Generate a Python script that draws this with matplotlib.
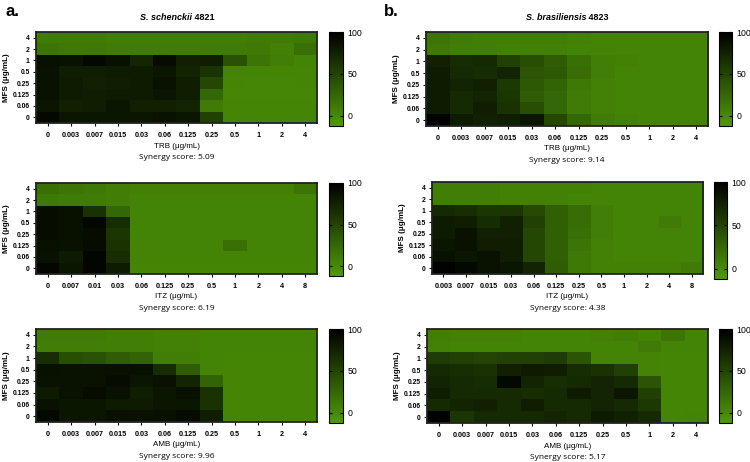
import numpy as np
import matplotlib
matplotlib.use("Agg")
import matplotlib.pyplot as plt
from matplotlib.colors import LinearSegmentedColormap

plt.rcParams['font.family'] = ['Liberation Sans', 'DejaVu Sans']

# ---------------- data ----------------
mfs_labels = ["4", "2", "1", "0.5", "0.25", "0.125", "0.06", "0"]

trb_labels = ["0", "0.003", "0.007", "0.015", "0.03", "0.06", "0.125", "0.25", "0.5", "1", "2", "4"]
itz_labels_a = ["0", "0.007", "0.01", "0.03", "0.06", "0.125", "0.25", "0.5", "1", "2", "4", "8"]
itz_labels_b = ["0.003", "0.007", "0.015", "0.03", "0.06", "0.125", "0.25", "0.5", "1", "2", "4", "8"]
amb_labels = ["0", "0.003", "0.007", "0.015", "0.03", "0.06", "0.125", "0.25", "0.5", "1", "2", "4"]

# rows: MFS 4, 2, 1, 0.5, 0.25, 0.125, 0.06, 0
trb_schenckii = [
    [10, 10, 10, 8, 8, 8, 8, 8, 8, 10, 10, 12],
    [15, 12, 12, 10, 10, 10, 10, 10, 10, 12, 6, 18],
    [88, 86, 93, 88, 72, 90, 76, 78, 40, 15, 8, 5],
    [86, 78, 78, 80, 80, 83, 73, 62, 5, 3, 3, 3],
    [86, 80, 76, 78, 80, 86, 78, 48, 3, 2, 2, 3],
    [86, 80, 78, 80, 80, 83, 78, 25, 2, 2, 2, 2],
    [83, 76, 78, 83, 76, 76, 73, 10, 3, 3, 3, 3],
    [93, 83, 83, 83, 83, 86, 83, 52, 3, 3, 3, 3],
]
trb_brasiliensis = [
    [15, 10, 8, 8, 8, 8, 6, 5, 5, 5, 5, 5],
    [12, 8, 8, 6, 6, 6, 5, 5, 5, 5, 5, 5],
    [76, 68, 70, 53, 43, 33, 18, 8, 6, 5, 5, 5],
    [80, 70, 68, 73, 38, 36, 20, 8, 5, 5, 5, 5],
    [80, 73, 76, 58, 36, 28, 12, 6, 5, 5, 5, 5],
    [80, 70, 73, 60, 33, 25, 10, 6, 5, 5, 5, 5],
    [80, 70, 78, 63, 43, 25, 10, 6, 5, 5, 5, 5],
    [97, 80, 76, 78, 83, 48, 25, 10, 6, 5, 5, 5],
]
itz_schenckii = [
    [18, 15, 12, 8, 6, 6, 6, 6, 6, 6, 6, 15],
    [12, 10, 10, 8, 5, 5, 5, 5, 5, 5, 5, 5],
    [90, 88, 63, 25, 5, 5, 5, 5, 5, 5, 5, 5],
    [90, 88, 94, 68, 5, 5, 5, 5, 5, 5, 5, 5],
    [90, 88, 90, 60, 5, 5, 5, 5, 5, 5, 5, 5],
    [88, 86, 90, 63, 5, 5, 5, 5, 18, 5, 5, 5],
    [86, 80, 95, 66, 5, 5, 5, 5, 5, 5, 5, 5],
    [94, 83, 95, 80, 3, 3, 3, 3, 3, 3, 3, 3],
]
itz_brasiliensis = [
    [8, 8, 8, 6, 6, 6, 6, 5, 5, 5, 5, 5],
    [8, 8, 8, 6, 6, 6, 5, 5, 5, 5, 5, 5],
    [70, 66, 60, 60, 46, 30, 20, 8, 5, 5, 5, 5],
    [80, 78, 68, 76, 53, 30, 20, 8, 5, 5, 10, 5],
    [80, 86, 76, 76, 48, 30, 18, 8, 5, 5, 5, 5],
    [83, 86, 78, 78, 48, 30, 15, 6, 5, 5, 5, 5],
    [88, 83, 86, 78, 48, 30, 12, 6, 5, 5, 5, 5],
    [97, 93, 86, 83, 73, 33, 12, 6, 6, 6, 6, 10],
]
amb_schenckii = [
    [10, 10, 10, 8, 8, 6, 6, 5, 5, 5, 5, 5],
    [8, 8, 8, 8, 8, 6, 6, 5, 5, 5, 5, 5],
    [66, 43, 40, 33, 28, 8, 8, 5, 3, 3, 3, 3],
    [88, 86, 86, 86, 88, 68, 33, 5, 3, 3, 3, 3],
    [86, 86, 86, 90, 83, 86, 73, 28, 3, 3, 3, 3],
    [80, 86, 90, 86, 78, 83, 88, 63, 3, 3, 3, 3],
    [86, 83, 83, 80, 80, 83, 83, 63, 3, 3, 3, 3],
    [93, 83, 83, 88, 86, 88, 90, 78, 3, 3, 3, 3],
]
amb_brasiliensis = [
    [8, 6, 6, 6, 5, 5, 5, 6, 8, 5, 15, 5],
    [6, 5, 5, 5, 5, 5, 5, 5, 5, 10, 5, 5],
    [56, 53, 50, 53, 53, 56, 38, 5, 5, 5, 3, 3],
    [70, 66, 63, 76, 80, 78, 68, 63, 53, 5, 3, 3],
    [73, 70, 68, 93, 73, 66, 70, 73, 70, 38, 3, 3],
    [78, 70, 70, 70, 66, 70, 80, 73, 83, 53, 3, 3],
    [70, 73, 76, 70, 78, 70, 70, 73, 70, 58, 3, 3],
    [97, 60, 70, 70, 70, 73, 70, 80, 76, 70, 3, 5],
]

titles = ["S. schenckii", "S. brasiliensis"]
strains = ["4821", "4823"]
drugs = ["TRB", "ITZ", "AMB"]
scores = [["5.09", "9.14"], ["6.19", "4.38"], ["9.96", "5.17"]]

# ---------------- layout (pixels) ----------------
W, H = 750, 462
fig = plt.figure(figsize=(W / 100, H / 100), dpi=100)


def px(l, t, r, b):
    return [l / W, 1 - b / H, (r - l) / W, (b - t) / H]


heat_boxes = [[(36, 32, 317, 123), (426, 32, 708, 126)],
              [(36, 183, 317, 274), (432, 182, 703, 274)],
              [(36, 329, 317, 422), (427, 329, 708, 423)]]
cbar_boxes = [[(329, 32, 343, 126), (719, 32, 732, 126)],
              [(329, 183, 343, 276), (714, 182, 727, 279)],
              [(329, 329, 343, 423), (719, 329, 732, 423)]]

datas = [[trb_schenckii, trb_brasiliensis],
         [itz_schenckii, itz_brasiliensis],
         [amb_schenckii, amb_brasiliensis]]
xlabs = [[trb_labels, trb_labels],
         [itz_labels_a, itz_labels_b],
         [amb_labels, amb_labels]]

cmap = LinearSegmentedColormap.from_list("gb", ["#4f9a08", "#000000"])
vmin, vmax = -12, 100

for r in range(3):
    for c in range(2):
        l, t, rr, b = heat_boxes[r][c]
        ax = fig.add_axes(px(l, t, rr, b))
        data = np.array(datas[r][c], dtype=float)
        im = ax.imshow(data, cmap=cmap, vmin=vmin, vmax=vmax, aspect='auto',
                       interpolation='nearest')
        ax.set_xticks(range(len(xlabs[r][c])))
        ax.set_xticklabels(xlabs[r][c], fontsize=5.2, fontweight='bold')
        ax.set_yticks(range(len(mfs_labels)))
        ax.set_yticklabels(mfs_labels, fontsize=4.9, fontweight='bold')
        ax.tick_params(axis='both', length=2.5, width=0.8, pad=2)
        ax.tick_params(axis='x', pad=4)
        for s in ax.spines.values():
            s.set_linewidth(1.3)
            s.set_color('#222222')
        ax.set_ylabel("MFS (μg/mL)", fontsize=5.8, fontweight='bold', labelpad=2)
        cx = (l + rr) / 2
        yx = b + (146 - 123)
        fig.text(cx / W, 1 - yx / H, f"{drugs[r]} (μg/mL)", fontsize=5.8,
                 ha='center', va='center')
        fig.text(cx / W, 1 - (yx + 11.5) / H, f"Synergy score: {scores[r][c]}",
                 fontsize=6.0, ha='center', va='center', family='Open Sans')

        cl, ct, cr, cb = cbar_boxes[r][c]
        cax = fig.add_axes(px(cl, ct, cr, cb))
        cb_ = fig.colorbar(im, cax=cax)
        cb_.set_ticks([0, 50, 100])
        cb_.ax.tick_params(labelsize=6.3, length=2, width=0.8, direction='in',
                           left=True, right=True, pad=3)
        cb_.outline.set_linewidth(0.8)

# titles
fig.canvas.draw()
renderer = fig.canvas.get_renderer()
title_centers = [177, 567]
for c in range(2):
    y = 1 - 18 / H
    t1 = fig.text(0, y, titles[c], fontsize=6.5, fontweight='bold',
                  style='italic', ha='left', va='center')
    t2 = fig.text(0, y, " " + strains[c], fontsize=6.5, fontweight='bold',
                  ha='left', va='center')
    w1 = t1.get_window_extent(renderer).width
    w2 = t2.get_window_extent(renderer).width
    x0 = title_centers[c] - (w1 + w2) / 2
    t1.set_x(x0 / W)
    t2.set_x((x0 + w1) / W)

fig.text(5 / W, 1 - 11 / H, "a.", fontsize=12, fontweight='bold', ha='left', va='center')
fig.text(384 / W, 1 - 11 / H, "b.", fontsize=12, fontweight='bold', ha='left', va='center')

fig.savefig("out.png", dpi=100)
